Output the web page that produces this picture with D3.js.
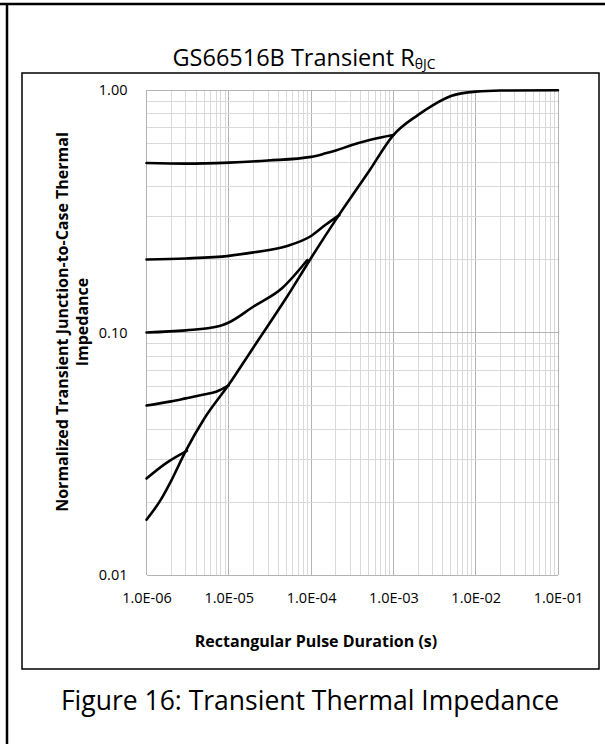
<!DOCTYPE html>
<html><head><meta charset="utf-8">
<script src="https://cdn.jsdelivr.net/npm/d3@7"></script>
<style>html,body{margin:0;padding:0;background:#fff;}svg{display:block;}</style>
</head><body>
<script>
// ---- data ----
const xTickValues = [1e-6, 1e-5, 1e-4, 1e-3, 1e-2, 1e-1];
const xTickLabels = ["1.0E-06", "1.0E-05", "1.0E-04", "1.0E-03", "1.0E-02", "1.0E-01"];
const yTickValues = [0.01, 0.1, 1];
const yTickLabels = ["0.01", "0.10", "1.00"];

const singlePulse = [[1e-6,0.0169],[1.5e-6,0.0205],[2e-6,0.0245],[3e-6,0.0325],[5e-6,0.044],[1e-5,0.061],[2e-5,0.087],[5e-5,0.139],[1e-4,0.203],[2e-4,0.292],[5e-4,0.46],[1e-3,0.652],[2e-3,0.79],[3e-3,0.865],[5e-3,0.945],[1e-2,0.985],[2e-2,0.995],[1e-1,0.998]];
const duty05 = [[1e-6,0.50],[3e-6,0.497],[1e-5,0.502],[3e-5,0.512],[1e-4,0.530],[1.5e-4,0.548],[2e-4,0.563],[3e-4,0.59],[5e-4,0.62],[7e-4,0.637],[1e-3,0.652]];
const duty02 = [[1e-6,0.200],[3e-6,0.202],[1e-5,0.207],[2e-5,0.214],[5e-5,0.227],[1e-4,0.250],[1.5e-4,0.278],[2.2e-4,0.305]];
const duty01 = [[1e-6,0.100],[3e-6,0.102],[7.5e-6,0.106],[1e-5,0.110],[2e-5,0.128],[4.5e-5,0.153],[9e-5,0.199]];
const duty005 = [[1e-6,0.050],[2e-6,0.052],[3e-6,0.0535],[5e-6,0.0555],[7e-6,0.057],[1e-5,0.0605]];
const duty002 = [[1e-6,0.025],[1.75e-6,0.029],[3.1e-6,0.0325]];
const seriesList = [singlePulse, duty05, duty02, duty01, duty005, duty002];

// ---- drawing ----
const W = 605, H = 744;
const svg = d3.select("body").append("svg").attr("width", W).attr("height", H);
const FONT = "'Open Sans', 'Noto Sans', sans-serif";

// outer frame
svg.append("line").attr("x1",0).attr("x2",W).attr("y1",4).attr("y2",4).attr("stroke","#000").attr("stroke-width",2.5);
svg.append("line").attr("x1",7).attr("x2",7).attr("y1",4).attr("y2",H).attr("stroke","#000").attr("stroke-width",2.5);
// chart box
svg.append("rect").attr("x",22).attr("y",73).attr("width",577).attr("height",596)
  .attr("fill","none").attr("stroke","#000").attr("stroke-width",1.5);

const x = d3.scaleLog().domain([1e-6, 1e-1]).range([146.5, 558]);
const y = d3.scaleLog().domain([0.01, 1]).range([575, 90]);

// gridlines
const g = svg.append("g");
const isMajor = v => Math.abs(Math.log10(v) - Math.round(Math.log10(v))) < 1e-9;
x.ticks().forEach(v => {
  g.append("line").attr("x1", x(v)).attr("x2", x(v)).attr("y1", y(1)).attr("y2", y(0.01))
    .attr("stroke", isMajor(v) ? "#b3b3b3" : "#d9d9d9").attr("stroke-width", 1).attr("shape-rendering","crispEdges");
});
y.ticks().forEach(v => {
  g.append("line").attr("x1", x(1e-6)).attr("x2", x(1e-1)).attr("y1", y(v)).attr("y2", y(v))
    .attr("stroke", isMajor(v) ? "#b3b3b3" : "#d9d9d9").attr("stroke-width", 1).attr("shape-rendering","crispEdges");
});

// axes
const xAxis = d3.axisBottom(x).tickValues(xTickValues).tickSize(0).tickPadding(18)
  .tickFormat((d,i) => xTickLabels[i]);
const xa = svg.append("g").attr("transform", `translate(0,${y(0.01)})`).call(xAxis);
xa.select(".domain").remove();
xa.selectAll("text").attr("font-family", FONT).attr("font-size", 14.5).attr("fill","#000");

const yAxis = d3.axisLeft(y).tickValues(yTickValues).tickSize(0).tickPadding(19)
  .tickFormat((d,i) => yTickLabels[i]);
const ya = svg.append("g").attr("transform", `translate(${x(1e-6)},0)`).call(yAxis);
ya.select(".domain").remove();
ya.selectAll("text").attr("font-family", FONT).attr("font-size", 14.5).attr("fill","#000");

// curves
const line = d3.line().x(d => x(d[0])).y(d => y(d[1])).curve(d3.curveMonotoneX);
seriesList.forEach(s => {
  svg.append("path").datum(s).attr("d", line).attr("fill","none")
    .attr("stroke","#000").attr("stroke-width",2.6).attr("stroke-linejoin","round").attr("stroke-linecap","round");
});

// title
const title = svg.append("text").attr("x", 304).attr("y", 66).attr("text-anchor","middle")
  .attr("font-family", FONT).attr("font-size", 23.5).attr("fill","#000");
title.append("tspan").text("GS66516B Transient R");
title.append("tspan").attr("font-size", 14).attr("dy", 3).text("θJC");

// axis titles
svg.append("text").attr("x", 316).attr("y", 647).attr("text-anchor","middle")
  .attr("font-family", FONT).attr("font-weight","bold").attr("font-size", 16).attr("fill","#000")
  .text("Rectangular Pulse Duration (s)");
const yl = svg.append("text").attr("transform", "translate(67.5,322) rotate(-90)").attr("text-anchor","middle")
  .attr("font-family", FONT).attr("font-weight","bold").attr("font-size", 16).attr("fill","#000");
yl.append("tspan").attr("x",0).attr("y",0).text("Normalized Transient Junction-to-Case Thermal");
yl.append("tspan").attr("x",0).attr("y",20).text("Impedance");

// caption
svg.append("text").attr("x", 310).attr("y", 710).attr("text-anchor","middle")
  .attr("font-family", FONT).attr("font-size", 26.5).attr("fill","#000")
  .text("Figure 16: Transient Thermal Impedance");
</script>
</body></html>
